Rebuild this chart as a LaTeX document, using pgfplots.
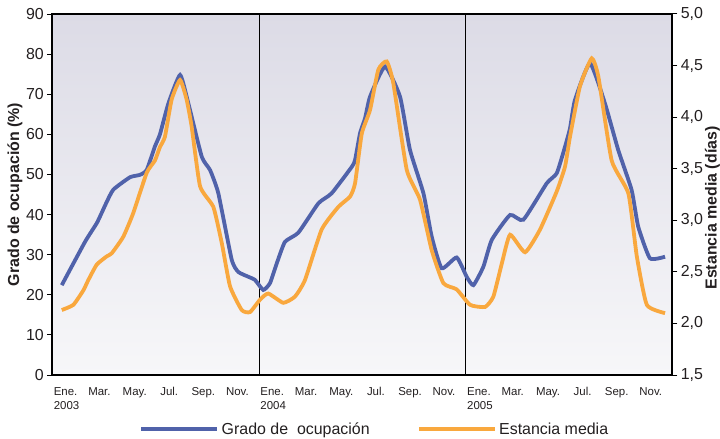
\documentclass[border=0pt]{standalone}
\usepackage{fontspec}
\setmainfont{Liberation Sans}
\usepackage{pgfplots}
\pgfplotsset{compat=1.18}
\usepackage{pgfplotstable}

\definecolor{grado}{RGB}{80,98,170}
\definecolor{estancia}{RGB}{249,168,62}
\definecolor{bgtop}{RGB}{220,219,230}
\definecolor{bgbot}{RGB}{247,247,249}
\definecolor{txt}{RGB}{35,31,32}

% mes (0 = enero 2003), grado de ocupacion (%)
\pgfplotstableread{
m v
0.55 22.4
1.90 33.2
2.60 38.0
3.10 42.6
3.54 46.2
4.51 49.3
5.09 49.9
5.48 51.1
5.96 57.0
6.25 60.0
6.74 67.7
7.42 74.8
7.90 67.7
8.68 54.4
9.16 51.1
9.64 45.3
10.42 28.7
10.80 25.7
11.38 24.5
11.77 23.7
12.25 21.2
12.64 22.9
13.03 27.8
13.51 33.2
14.29 35.5
15.45 42.8
16.22 45.3
17.39 51.9
17.58 53.6
17.87 60.3
18.16 64.0
18.45 69.4
19.32 76.9
20.19 69.4
20.77 56.1
21.55 45.3
22.03 34.5
22.61 26.6
23.48 29.3
24.06 24.5
24.45 22.4
25.03 27.0
25.52 33.7
26.58 39.9
27.35 38.7
28.71 47.8
29.29 50.3
29.77 56.9
30.06 61.5
30.35 68.6
31.22 77.7
32.09 67.7
32.86 56.1
33.64 46.1
34.02 37.0
34.70 29.1
35.58 29.5
}\gradotab

% mes, estancia media (dias)
\pgfplotstableread{
m d
0.55 2.13
1.22 2.18
1.80 2.32
2.09 2.42
2.58 2.57
3.16 2.65
3.45 2.68
4.12 2.84
4.70 3.07
5.48 3.46
5.96 3.58
6.25 3.71
6.54 3.81
6.93 4.17
7.42 4.36
7.80 4.17
8.09 3.91
8.58 3.33
9.35 3.13
9.84 2.78
10.32 2.36
11.00 2.13
11.48 2.11
12.06 2.23
12.54 2.29
13.41 2.20
14.09 2.26
14.67 2.42
15.64 2.91
16.61 3.13
17.29 3.23
17.58 3.36
17.97 3.84
18.45 4.07
18.93 4.46
19.42 4.54
19.80 4.33
20.58 3.49
21.35 3.20
22.03 2.71
22.71 2.39
23.48 2.33
24.26 2.18
25.13 2.16
25.61 2.26
26.10 2.58
26.58 2.86
27.45 2.69
28.32 2.91
29.29 3.28
29.77 3.52
30.06 3.81
30.64 4.30
31.32 4.57
31.71 4.39
32.48 3.58
33.45 3.26
33.94 2.65
34.52 2.18
35.58 2.10
}\estanciatab

\tikzset{ylab/.style={font=\fontsize{16}{16}\selectfont\bfseries, text=txt}}

\begin{document}
\begin{tikzpicture}
\pgfplotsset{
  base/.style={
    scale only axis, width=620bp, height=361bp,
    xmin=0, xmax=36,
    tick align=outside, major tick length=5bp,
    axis line style={line width=2.2bp, black},
    every tick/.style={black, line width=1bp},
    tick label style={font=\fontsize{16}{16}\selectfont, text=txt},
    /pgf/number format/assume math mode=true,
  },
}
\begin{axis}[base, name=main,
  ymin=0, ymax=90, ytick={0,10,...,90}, ytick pos=left,
  xtick={0,2,...,34},
  xticklabels={{Ene.\\2003},Mar.,May.,\ Jul.,Sep.,Nov.,
               {Ene.\\2004},Mar.,May.,\ Jul.,Sep.,Nov.,
               {Ene.\\2005},Mar.,May.,\ Jul.,Sep.,Nov.},
  xtick style={draw=none},
  xticklabel style={font=\fontsize{11.5}{14}\selectfont, align=left,
    anchor=north west, xshift=-2bp, yshift=-4bp},
  extra x ticks={12,24}, extra x tick labels={},
  extra x tick style={grid=major, major grid style={black, line width=0.9bp},
    tick style={draw=none}},
  axis background/.style={shade, top color=bgtop, bottom color=bgbot},
  ylabel={Grado de ocupación (\%)},
  every axis y label/.style={at={(rel axis cs:0,0.5)}, anchor=center,
    xshift=-37.3bp, rotate=90, ylab},
  legend columns=2,
  legend style={at={(0.52,-0.1496)}, anchor=center, draw=none, fill=none,
    font=\fontsize{16}{16}\selectfont, text=txt,
    /tikz/every even column/.append style={column sep=45bp}},
  legend image code/.code={\draw[#1, line width=4.5bp] (0bp,0bp) -- (76bp,0bp);},
]
\addplot[grado, line width=3.8bp, smooth, tension=0.3] table[x=m, y=v] {\gradotab};
\addlegendentry{Grado de\ \ ocupación}
\addlegendimage{estancia, line width=3.8bp}
\addlegendentry{Estancia media}
\end{axis}
\begin{axis}[base,
  axis x line=none, axis y line*=right,
  ymin=1.5, ymax=5, ytick={1.5,2,...,5},
  yticklabel style={/pgf/number format/.cd, fixed, fixed zerofill, precision=1, use comma},
  ylabel={Estancia media (días)},
  every axis y label/.style={at={(rel axis cs:1,0.4626)}, anchor=center,
    xshift=40.2bp, rotate=90, ylab},
]
\addplot[estancia, line width=3.8bp, smooth, tension=0.3] table[x=m, y=d] {\estanciatab};
\end{axis}
\pgfresetboundingbox
\path (main.south west) ++(-52.3bp,-64bp) rectangle ++(720bp,439bp);
\end{tikzpicture}
\end{document}
